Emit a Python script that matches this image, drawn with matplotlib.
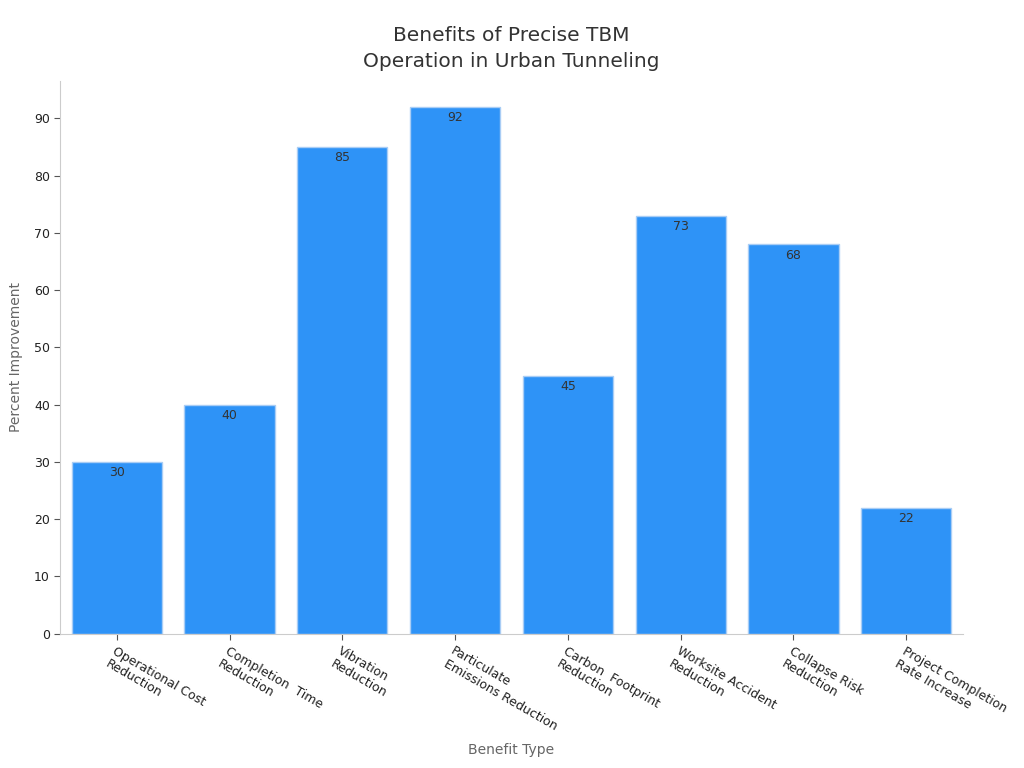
import matplotlib
matplotlib.use("Agg")
import matplotlib.pyplot as plt
import numpy as np

# Chart data
categories = [
    "Operational Cost\nReduction",
    "Completion  Time\nReduction",
    "Vibration\nReduction",
    "Particulate\nEmissions Reduction",
    "Carbon  Footprint\nReduction",
    "Worksite Accident\nReduction",
    "Collapse Risk\nReduction",
    "Project Completion\nRate Increase",
]
values = [30, 40, 85, 92, 45, 73, 68, 22]
yticks = [0, 10, 20, 30, 40, 50, 60, 70, 80, 90]

bar_color = "#2e93f7"
edge_color = "#a9cdf5"
spine_color = "#cccccc"

fig, ax = plt.subplots(figsize=(10.24, 7.68), dpi=100)
fig.subplots_adjust(left=0.059, right=0.94, top=0.895, bottom=0.175)

x = np.arange(len(categories))
bars = ax.bar(x, values, width=0.8, color=bar_color, edgecolor=edge_color, linewidth=1)

# value labels just inside the top of each bar
for xi, v in zip(x, values):
    ax.annotate(f"{v}", (xi, v), xytext=(0, -3), textcoords="offset points",
                ha="center", va="top", fontsize=9, color="#333333")

ax.set_xlim(-0.5, len(categories) - 0.5)
ax.set_ylim(0, 96.6)
ax.set_yticks(yticks)
ax.set_xticks(x)
ax.set_xticklabels(categories, rotation=-30, ha="left", rotation_mode="anchor",
                   fontsize=9, color="#222222")
ax.tick_params(axis="x", pad=4, length=4, color="#555555")
ax.tick_params(axis="y", labelsize=9, labelcolor="#222222", length=4, color="#555555")

for s in ["top", "right"]:
    ax.spines[s].set_visible(False)
for s in ["left", "bottom"]:
    ax.spines[s].set_color(spine_color)

ax.set_xlabel("Benefit Type", fontsize=10, color="#666666", labelpad=7)
ax.set_ylabel("Percent Improvement", fontsize=10, color="#666666", labelpad=8)
ax.set_title("Benefits of Precise TBM\nOperation in Urban Tunneling", fontsize=14.5,
             color="#333333", pad=10, linespacing=1.45)

plt.savefig("out.png", dpi=100)
